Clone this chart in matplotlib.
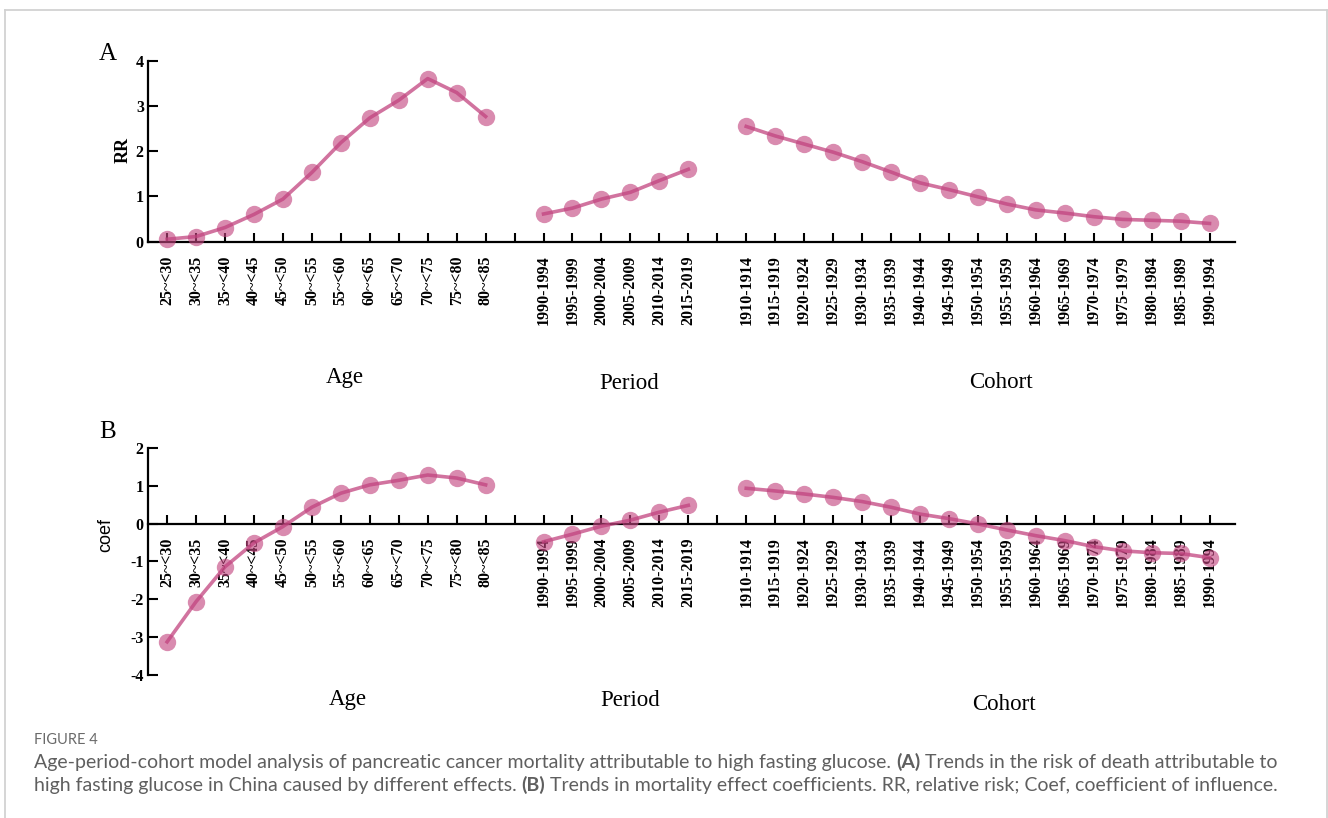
import matplotlib
matplotlib.use('Agg')
import matplotlib.pyplot as plt
from matplotlib.lines import Line2D
import numpy as np

# Category labels for the three effects
age_groups = ['25~<30', '30~<35', '35~<40', '40~<45', '45~<50', '50~<55',
              '55~<60', '60~<65', '65~<70', '70~<75', '75~<80', '80~<85']
periods = ['1990-1994', '1995-1999', '2000-2004', '2005-2009', '2010-2014', '2015-2019']
cohorts = ['1910-1914', '1915-1919', '1920-1924', '1925-1929', '1930-1934', '1935-1939',
           '1940-1944', '1945-1949', '1950-1954', '1955-1959', '1960-1964', '1965-1969',
           '1970-1974', '1975-1979', '1980-1984', '1985-1989', '1990-1994']

# Panel A: relative risk
age_rr = [0.05, 0.11, 0.31, 0.60, 0.94, 1.53, 2.19, 2.74, 3.13, 3.61, 3.30, 2.77]
period_rr = [0.61, 0.74, 0.94, 1.09, 1.35, 1.60]
cohort_rr = [2.55, 2.34, 2.16, 1.98, 1.77, 1.54, 1.30, 1.15, 0.99, 0.83, 0.70,
             0.63, 0.55, 0.49, 0.47, 0.45, 0.40]

# Panel B: effect coefficients
age_coef = [-3.12, -2.06, -1.14, -0.51, -0.08, 0.43, 0.80, 1.02, 1.14, 1.28, 1.20, 1.02]
period_coef = [-0.48, -0.28, -0.07, 0.09, 0.30, 0.48]
cohort_coef = [0.93, 0.86, 0.78, 0.69, 0.58, 0.43, 0.25, 0.13, -0.01, -0.17, -0.32,
               -0.45, -0.61, -0.72, -0.77, -0.79, -0.90]

W, H = 1328, 818
PINK = '#C2447F'
SERIF = 'Liberation Serif'

# x positions: one empty slot between the groups
age_x = np.arange(len(age_groups))
period_x = age_x[-1] + 2 + np.arange(len(periods))
cohort_x = period_x[-1] + 2 + np.arange(len(cohorts))
all_x = np.arange(cohort_x[-1] + 1)
labels = [''] * len(all_x)
for xs, names in [(age_x, age_groups), (period_x, periods), (cohort_x, cohorts)]:
    for x, n in zip(xs, names):
        labels[x] = n


def px_rect(l, t, r, b):
    return [l / W, 1 - b / H, (r - l) / W, (b - t) / H]


def fx(x):
    return x / W


def fy(y):
    return 1 - y / H


fig = plt.figure(figsize=(W / 100, H / 100), dpi=100)
fig.patch.set_facecolor('white')


def setup_axis(ax, ylim, yticks):
    ax.set_xlim(-0.66, 36.88)
    ax.set_ylim(*ylim)
    for s in ['top', 'right']:
        ax.spines[s].set_visible(False)
    ax.spines['left'].set_linewidth(1.6)
    ax.spines['bottom'].set_linewidth(1.6)
    ax.spines['bottom'].set_position(('data', 0))
    ax.set_xticks(all_x)
    ax.set_xticklabels(labels, rotation=90, fontfamily=SERIF, fontweight='bold', fontsize=11.5)
    ax.set_yticks(yticks)
    ax.set_yticklabels([str(t) for t in yticks], fontfamily=SERIF, fontweight='bold', fontsize=11.5)
    ax.tick_params(axis='x', direction='in', length=6.5, width=1.5, pad=10)
    ax.tick_params(axis='y', direction='in', length=7, width=1.5, pad=3)
    ax.patch.set_alpha(0)


def draw_series(ax, xs, ys):
    ax.plot(xs, ys, color=PINK, lw=2.6, alpha=0.75, clip_on=False, zorder=3)
    ax.plot(xs, ys, 'o', color=PINK, ms=12.5, mec='none', alpha=0.62, clip_on=False, zorder=4)


# ---- Panel A ----
axA = fig.add_axes(px_rect(148, 61, 1235, 241.5))
setup_axis(axA, (0, 4), [0, 1, 2, 3, 4])
draw_series(axA, age_x, age_rr)
draw_series(axA, period_x, period_rr)
draw_series(axA, cohort_x, cohort_rr)

# ---- Panel B ----
axB = fig.add_axes(px_rect(148, 447.7, 1235, 675.2))
setup_axis(axB, (-4, 2), [-4, -3, -2, -1, 0, 1, 2])
draw_series(axB, age_x, age_coef)
draw_series(axB, period_x, period_coef)
draw_series(axB, cohort_x, cohort_coef)

# axis titles and panel letters
fig.text(fx(123), fy(150), 'RR', rotation=90, ha='center', va='center',
         family=SERIF, fontweight='bold', fontsize=13)
fig.text(fx(106), fy(535), 'coef', rotation=90, ha='center', va='center',
         family='Liberation Sans', fontsize=13)
fig.text(fx(108), fy(54), 'A', ha='center', va='center', family=SERIF, fontsize=18)
fig.text(fx(108), fy(432), 'B', ha='center', va='center', family=SERIF, fontsize=18)

for (x, y), name in [((345, 378), 'Age'), ((629, 384), 'Period'), ((1001, 382), 'Cohort'),
                     ((348, 699), 'Age'), ((630, 700), 'Period'), ((1004, 705), 'Cohort')]:
    fig.text(fx(x), fy(y), name, ha='center', va='center', family=SERIF, fontsize=16.5)

# light grey frame around the figure
frame_kw = dict(transform=fig.transFigure, color='#d2d2d2', lw=1.3)
fig.add_artist(Line2D([fx(4.5), fx(1327)], [fy(9.5), fy(9.5)], **frame_kw))
fig.add_artist(Line2D([fx(4.5), fx(4.5)], [fy(9.5), 0], **frame_kw))
fig.add_artist(Line2D([fx(1327), fx(1327)], [fy(9.5), 0], **frame_kw))

# caption
CAP_FONT = 'Lato'
CAP_COLOR = '#5f5f5f'
CAP_SIZE = 14
fig.text(fx(34), fy(744), 'FIGURE 4', family=CAP_FONT, fontsize=10.5, color='#6a6a6a', va='baseline')

renderer = fig.canvas.get_renderer()


def text_width(s, weight):
    t = fig.text(0, 0, s, family=CAP_FONT, fontsize=CAP_SIZE, fontweight=weight)
    w = t.get_window_extent(renderer).width
    t.remove()
    return w


space_w = text_width('x x', 'normal') - text_width('xx', 'normal')


def caption_line(y, parts):
    x = 34
    for txt, weight in parts:
        t = fig.text(fx(x), fy(y), txt, family=CAP_FONT, fontsize=CAP_SIZE,
                     fontweight=weight, color=CAP_COLOR, va='baseline')
        x += t.get_window_extent(renderer).width + space_w


caption_line(768, [('Age-period-cohort model analysis of pancreatic cancer mortality attributable to high fasting glucose.', 'normal'),
                   ('(A)', 'bold'),
                   ('Trends in the risk of death attributable to', 'normal')])
caption_line(791, [('high fasting glucose in China caused by different effects.', 'normal'),
                   ('(B)', 'bold'),
                   ('Trends in mortality effect coefficients. RR, relative risk; Coef, coefficient of influence.', 'normal')])

fig.savefig('out.png', dpi=100)
